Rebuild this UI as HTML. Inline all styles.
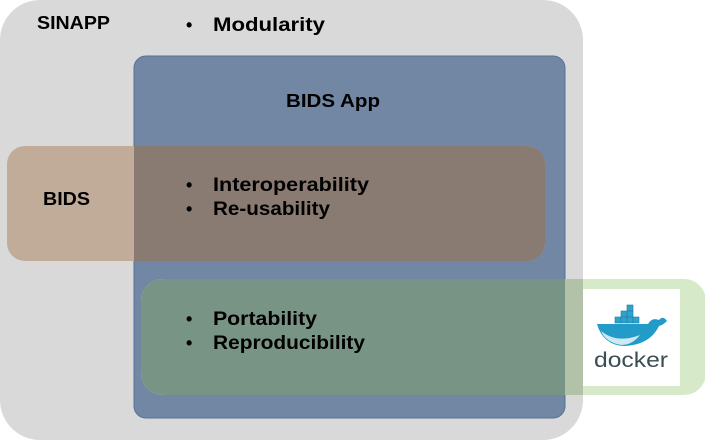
<!DOCTYPE html>
<html><head><meta charset="utf-8"><style>
html,body{margin:0;padding:0;background:#fff;width:705px;height:440px;overflow:hidden}
svg{display:block}
text{font-family:"Liberation Sans",sans-serif;font-weight:bold;fill:#000}
</style></head><body>
<svg width="705" height="440" viewBox="0 0 705 440" xmlns="http://www.w3.org/2000/svg">
<defs>
<clipPath id="blue"><rect x="134" y="56" width="431" height="362" rx="12"/></clipPath>
<clipPath id="gray"><rect x="0" y="0" width="583" height="440" rx="40"/></clipPath>
</defs>
<rect x="0" y="0" width="583" height="440" rx="40" fill="#d9d9d9"/>
<rect x="134" y="56" width="431" height="362" rx="12" fill="#7187a4" stroke="#56709a" stroke-width="1"/>
<rect x="7" y="146" width="538" height="115" rx="18" fill="#c1ac99"/>
<rect x="7" y="146" width="538" height="115" rx="18" fill="#8a7b72" clip-path="url(#blue)"/>
<rect x="141" y="279" width="565" height="116" rx="22" fill="#d6eac9"/>
<rect x="141" y="279" width="565" height="116" rx="22" fill="#b1c2a8" clip-path="url(#gray)"/>
<rect x="141" y="279" width="565" height="116" rx="22" fill="#789485" clip-path="url(#blue)"/>
<rect x="583" y="289" width="97" height="97" fill="#fff"/>
<g fill="#2fa3cc" stroke="#1a7ea6" stroke-width="0.6">
<rect x="627" y="305" width="6" height="6"/>
<rect x="621" y="311" width="6" height="6"/><rect x="627" y="311" width="6" height="6"/>
<rect x="615" y="317" width="6" height="6"/><rect x="621" y="317" width="6" height="6"/><rect x="627" y="317" width="6" height="6"/><rect x="633" y="317" width="6" height="6"/>
</g>
<path d="M597 324 L648 324 Q652 317 659 320 Q663 315 667 321 Q663 325 659 326 Q650 345 624 346 Q603 345 597 324 Z" fill="#239bc8"/>
<path d="M601 331 Q617 344 640 335 Q632 345 622 345 Q606 343 601 331Z" fill="#cfe9f2"/>
<text x="631" y="367" text-anchor="middle" style="font-weight:normal;fill:#394d54;font-size:21px" textLength="74" lengthAdjust="spacingAndGlyphs">docker</text>
<text x="37" y="29" font-size="18" textLength="73" lengthAdjust="spacingAndGlyphs">SINAPP</text>
<text x="186" y="31" font-size="18">•</text>
<text x="213" y="31" font-size="19" textLength="112" lengthAdjust="spacingAndGlyphs">Modularity</text>
<text x="333" y="107" font-size="18" text-anchor="middle" textLength="94" lengthAdjust="spacingAndGlyphs">BIDS App</text>
<text x="43" y="205" font-size="18" textLength="47" lengthAdjust="spacingAndGlyphs">BIDS</text>
<text x="186" y="191" font-size="18">•</text>
<text x="213" y="191" font-size="19" textLength="156" lengthAdjust="spacingAndGlyphs">Interoperability</text>
<text x="186" y="215" font-size="18">•</text>
<text x="213" y="215" font-size="19" textLength="117" lengthAdjust="spacingAndGlyphs">Re-usability</text>
<text x="186" y="325" font-size="18">•</text>
<text x="213" y="325" font-size="19" textLength="104" lengthAdjust="spacingAndGlyphs">Portability</text>
<text x="186" y="349" font-size="18">•</text>
<text x="213" y="349" font-size="19" textLength="152" lengthAdjust="spacingAndGlyphs">Reproducibility</text>
</svg>
</body></html>
